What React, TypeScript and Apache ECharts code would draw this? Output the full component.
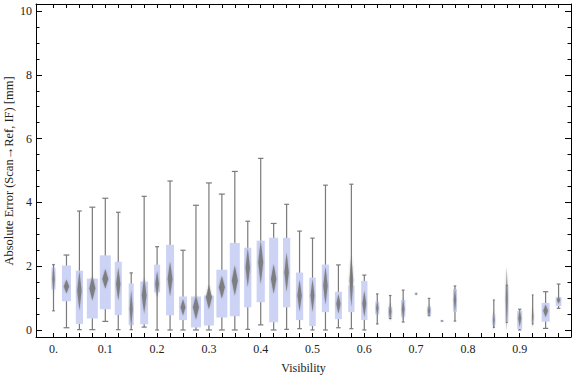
import React, { useEffect, useRef } from "react";
import * as echarts from "echarts";

// Visibility slots (one box per slot; 0.8 and 0.825 have no data)
const visibility = [
  0, 0.025, 0.05, 0.075, 0.1, 0.125, 0.15, 0.175, 0.2, 0.225,
  0.25, 0.275, 0.3, 0.325, 0.35, 0.375, 0.4, 0.425, 0.45, 0.475,
  0.5, 0.525, 0.55, 0.575, 0.6, 0.625, 0.65, 0.675, 0.7, 0.725,
  0.75, 0.775, 0.8, 0.825, 0.85, 0.875, 0.9, 0.925, 0.95, 0.975,
];
const whiskerLow = [
  0.6, 0.07, 0.01, 0.01, 0.27, 0.01, 0.01, 0.09, 0.0, 0.0,
  0.0, 0.0, 0.0, 0.0, 0.0, 0.02, 0.16, 0.0, 0.02, 0.04,
  0.0, 0.0, 0.07, 0.04, 0.0, 0.19, 0.36, 0.25, 1.1, 0.45,
  0.26, 0.28, null, null, 0.08, 0.24, 0.0, 0.19, 0.05, 0.68,
];
const quartile1 = [
  1.27, 0.9, 0.19, 0.36, 0.65, 0.47, 0.15, 0.18, 1.18, 0.46,
  0.31, 0.08, 0.14, 0.39, 0.43, 0.71, 0.87, 0.24, 0.71, 0.31,
  0.12, 0.56, 0.34, 0.56, 0.31, 0.49, 0.38, 0.42, 1.1, 0.46,
  0.26, 0.57, null, null, 0.16, 0.26, 0.03, 0.22, 0.26, 0.75,
];
const medianValues = [
  1.6, 1.36, 1.23, 1.31, 1.6, 1.44, 0.66, 1.08, 1.44, 1.6,
  0.71, 0.71, 1.03, 1.34, 1.55, 1.96, 2.12, 1.6, 1.81, 1.08,
  1.08, 1.39, 0.82, 1.55, 0.82, 0.68, 0.58, 0.65, 1.13, 0.6,
  0.28, 0.94, null, null, 0.31, 0.97, 0.37, 0.42, 0.6, 0.94,
];
const quartile3 = [
  1.95, 2.02, 1.86, 1.61, 2.34, 2.14, 1.46, 1.52, 2.05, 2.67,
  1.05, 1.05, 1.08, 1.89, 2.73, 2.58, 2.8, 2.89, 2.89, 1.8,
  1.64, 2.05, 1.2, 1.39, 1.54, 0.89, 0.72, 0.94, 1.17, 0.73,
  0.31, 1.28, null, null, 0.47, 1.38, 0.6, 0.36, 0.85, 1.03,
];
const whiskerHigh = [
  2.05, 2.35, 3.73, 3.85, 4.13, 3.69, 1.79, 4.19, 2.61, 4.67,
  2.5, 3.91, 4.61, 4.26, 4.97, 3.41, 5.38, 3.34, 3.94, 3.1,
  2.88, 4.54, 2.04, 4.57, 1.72, 1.13, 1.08, 1.25, 1.17, 0.99,
  0.31, 1.38, null, null, 0.94, 1.4, 0.65, 1.1, 1.2, 1.44,
];
// half-extent of the median diamond
const medianSpread = [
  0.5, 0.22, 0.62, 0.39, 0.31, 0.52, 0.6, 0.57, 0.42, 0.55,
  0.26, 0.39, 0.39, 0.36, 0.47, 0.62, 0.68, 0.47, 0.62, 0.5,
  0.52, 0.6, 0.31, 0.83, 0.42, 0.26, 0.3, 0.35, 0.04, 0.2,
  0.03, 0.4, null, null, 0.3, 1.0, 0.28, 0.35, 0.2, 0.12,
];
// relative sample weight (box width)
const sampleWeight = [
  0.36, 0.82, 0.66, 1.0, 1.0, 0.64, 0.46, 0.72, 0.55, 0.73,
  0.73, 0.91, 0.91, 1.0, 0.91, 0.66, 0.75, 0.82, 0.66, 0.66,
  0.59, 0.66, 0.64, 0.57, 0.57, 0.36, 0.36, 0.39, 0.27, 0.36,
  0.32, 0.36, null, null, 0.27, 0.3, 0.45, 0.23, 0.73, 0.52,
];

const xLabelValues = [0, 0.1, 0.2, 0.3, 0.4, 0.5, 0.6, 0.7, 0.8, 0.9];
const xTickLabels = ["0.", "0.1", "0.2", "0.3", "0.4", "0.5", "0.6", "0.7", "0.8", "0.9"];
const yLabelValues = [0, 2, 4, 6, 8, 10];
const yMinorTicks = [
  0.5, 1, 1.5, 2.5, 3, 3.5, 4.5, 5, 5.5, 6.5, 7, 7.5, 8.5, 9, 9.5,
];
const xTitle = "Visibility";
const yTitle = "Absolute Error (Scan\u2192Ref, IF) [mm]";

const FONT = "'Liberation Serif', 'Times New Roman', serif";
const MAX_BOX_W = 11;

export default function App() {
  const ref = useRef<HTMLDivElement>(null);
  useEffect(() => {
    document.body.style.margin = "0";
    const chart = echarts.init(ref.current!, null, { renderer: "svg" });

    const data: number[][] = [];
    visibility.forEach((v, i) => {
      if (medianValues[i] === null) return;
      data.push([
        v,
        whiskerLow[i] as number,
        quartile1[i] as number,
        medianValues[i] as number,
        quartile3[i] as number,
        whiskerHigh[i] as number,
        medianSpread[i] as number,
        sampleWeight[i] as number,
      ]);
    });

    const xMin = -0.0338;
    const xMax = 0.999;
    const yMin = -0.22;
    const yMax = 10.22;

    const baseX = {
      type: "value",
      min: xMin,
      max: xMax,
      splitLine: { show: false },
      axisLine: { show: true, onZero: false, lineStyle: { color: "#000", width: 1 } },
    };
    const baseY = {
      type: "value",
      min: yMin,
      max: yMax,
      splitLine: { show: false },
    };

    chart.setOption({
      animation: false,
      grid: {
        left: 36,
        right: 5,
        top: 4,
        bottom: 40,
        containLabel: false,
        outerBoundsMode: "none",
      },
      graphic: [
        {
          type: "text",
          x: 9,
          y: 171,
          rotation: Math.PI / 2,
          style: {
            text: yTitle,
            fontFamily: FONT,
            fontSize: 12.5,
            fill: "#222",
            align: "center",
            verticalAlign: "middle",
          },
        },
      ],
      xAxis: [
        {
          ...baseX,
          position: "bottom",
          axisTick: {
            show: true,
            inside: true,
            length: 4,
            customValues: visibility,
            lineStyle: { color: "#000" },
          },
          axisLabel: {
            show: true,
            customValues: xLabelValues,
            formatter: (v: number) => {
              const idx = xLabelValues.findIndex((t) => Math.abs(t - v) < 1e-6);
              return idx >= 0 ? xTickLabels[idx] : "";
            },
            fontFamily: FONT,
            fontSize: 12,
            color: "#222",
            margin: 6,
          },
          name: xTitle,
          nameLocation: "middle",
          nameGap: 25,
          nameTextStyle: { fontFamily: FONT, fontSize: 12, color: "#222" },
        },
        {
          ...baseX,
          position: "top",
          axisTick: {
            show: true,
            inside: true,
            length: 4,
            customValues: visibility,
            lineStyle: { color: "#000" },
          },
          axisLabel: { show: false },
        },
      ],
      yAxis: [
        {
          ...baseY,
          position: "left",
          axisLine: { show: true, onZero: false, lineStyle: { color: "#000", width: 1 } },
          axisTick: {
            show: true,
            inside: true,
            length: 6,
            customValues: yLabelValues,
            lineStyle: { color: "#000" },
          },
          axisLabel: {
            show: true,
            customValues: yLabelValues,
            formatter: (v: number) => String(v),
            fontFamily: FONT,
            fontSize: 12,
            color: "#222",
            margin: 4,
          },
        },
        {
          ...baseY,
          position: "left",
          axisLine: { show: false, onZero: false },
          axisTick: {
            show: true,
            inside: true,
            length: 3.5,
            customValues: yMinorTicks,
            lineStyle: { color: "#000" },
          },
          axisLabel: { show: false },
        },
        {
          ...baseY,
          position: "right",
          axisLine: { show: true, onZero: false, lineStyle: { color: "#000", width: 1 } },
          axisTick: {
            show: true,
            inside: true,
            length: 6,
            customValues: yLabelValues,
            lineStyle: { color: "#000" },
          },
          axisLabel: { show: false },
        },
        {
          ...baseY,
          position: "right",
          axisLine: { show: false, onZero: false },
          axisTick: {
            show: true,
            inside: true,
            length: 3.5,
            customValues: yMinorTicks,
            lineStyle: { color: "#000" },
          },
          axisLabel: { show: false },
        },
      ],
      series: [
        {
          type: "custom",
          xAxisIndex: 0,
          yAxisIndex: 0,
          data,
          clip: true,
          renderItem: (_params: any, api: any) => {
            const x = api.value(0);
            const lo = api.value(1);
            const q1 = api.value(2);
            const med = api.value(3);
            const q3 = api.value(4);
            const hi = api.value(5);
            const spread = api.value(6);
            const w = api.value(7) * MAX_BOX_W;
            const pLo = api.coord([x, lo]);
            const pQ1 = api.coord([x, q1]);
            const pMed = api.coord([x, med]);
            const pQ3 = api.coord([x, q3]);
            const pHi = api.coord([x, hi]);
            const pTop = api.coord([x, med + spread]);
            const pBot = api.coord([x, med - spread]);
            const cx = pMed[0];
            const capW = Math.min(6, w * 0.65);
            const dw = Math.min(6, w * 0.6);
            const stroke = "#7a7a7a";
            const children: any[] = [];
            if (hi > lo) {
              children.push({
                type: "line",
                shape: { x1: cx, y1: pLo[1], x2: cx, y2: pHi[1] },
                style: { stroke, lineWidth: 1.2 },
              });
            }
            if (hi > q3) {
              children.push({
                type: "line",
                shape: { x1: cx - capW / 2, y1: pHi[1], x2: cx + capW / 2, y2: pHi[1] },
                style: { stroke, lineWidth: 1.2 },
              });
            }
            if (lo < q1) {
              children.push({
                type: "line",
                shape: { x1: cx - capW / 2, y1: pLo[1], x2: cx + capW / 2, y2: pLo[1] },
                style: { stroke, lineWidth: 1.2 },
              });
            }
            children.push({
              type: "rect",
              shape: {
                x: cx - w / 2,
                y: Math.min(pQ3[1], pQ1[1]),
                width: w,
                height: Math.max(1.5, Math.abs(pQ1[1] - pQ3[1])),
              },
              style: { fill: "#cdd3f5" },
            });
            children.push({
              type: "polygon",
              shape: {
                points: [
                  [cx, pTop[1]],
                  [cx + dw / 2, pMed[1]],
                  [cx, pBot[1]],
                  [cx - dw / 2, pMed[1]],
                ],
              },
              style: {
                fill: "#777777",
                opacity: 0.85,
                shadowBlur: 2,
                shadowColor: "rgba(120,120,120,0.6)",
              },
            });
            return { type: "group", children };
          },
        },
      ],
    });
    return () => chart.dispose();
  }, []);
  return (
    <div
      ref={ref}
      style={{ position: "absolute", left: 0, top: 0, width: 576, height: 377 }}
    />
  );
}
